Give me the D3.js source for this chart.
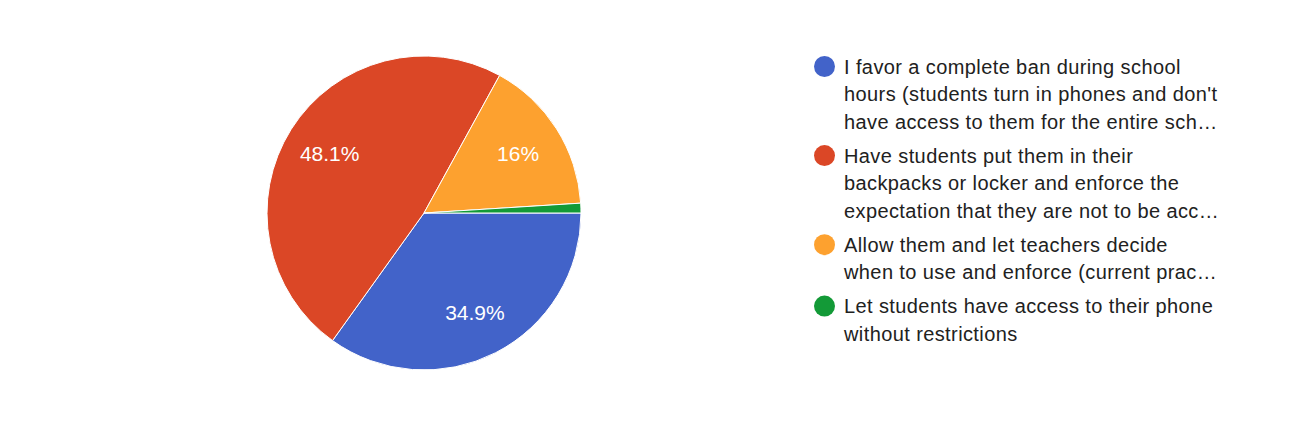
<!DOCTYPE html>
<html><head><meta charset="utf-8">
<script src="https://cdn.jsdelivr.net/npm/d3@7"></script>
<style>body{margin:0;background:#fff;} svg{display:block;}</style>
</head><body>
<svg id="c" width="1289" height="424"></svg>
<script>
const categories = [
  ["I favor a complete ban during school", "hours (students turn in phones and don't", "have access to them for the entire sch\u2026"],
  ["Have students put them in their", "backpacks or locker and enforce the", "expectation that they are not to be acc\u2026"],
  ["Allow them and let teachers decide", "when to use and enforce (current prac\u2026"],
  ["Let students have access to their phone", "without restrictions"]
];
const values = [34.9, 48.1, 16, 1.0];
const labels = ["34.9%", "48.1%", "16%", ""];
const colors = ["#4263c9", "#db4726", "#fda12f", "#139a37"];

const svg = d3.select("#c");
const cx = 424, cy = 213, r = 157;
const pie = d3.pie().sort(null).startAngle(Math.PI/2).endAngle(Math.PI/2 + 2*Math.PI);
const arcs = pie(values);
const arc = d3.arc().innerRadius(0).outerRadius(r);
const labelArc = d3.arc().innerRadius(r*0.71).outerRadius(r*0.71);
const g = svg.append("g").attr("transform", `translate(${cx},${cy})`);
g.selectAll("path").data(arcs).join("path")
  .attr("d", arc).attr("fill", (d,i)=>colors[i])
  .attr("stroke", "#fff").attr("stroke-width", 1);
g.selectAll("text").data(arcs).join("text")
  .attr("transform", d => `translate(${labelArc.centroid(d)})`)
  .attr("text-anchor", "middle").attr("dominant-baseline", "central")
  .attr("font-family", "Arial, 'Liberation Sans', sans-serif").attr("font-size", 21)
  .attr("fill", "#fff").text((d,i)=>labels[i]);

const lg = svg.append("g");
const lineH = 27.7, groupGap = 6;
let y = 66.5;
categories.forEach((lines, i) => {
  lg.append("circle").attr("cx", 824.5).attr("cy", y).attr("r", 10.5).attr("fill", colors[i]);
  const t = lg.append("text").attr("x", 844).attr("y", y)
    .attr("font-family", "Arial, 'Liberation Sans', sans-serif").attr("font-size", 20)
    .attr("letter-spacing", 0.4)
    .attr("fill", "#212121").attr("dominant-baseline", "central");
  lines.forEach((ln, j) => t.append("tspan").attr("x", 844).attr("dy", j===0?0:lineH).text(ln));
  y += lines.length*lineH + groupGap;
});
</script>
</body></html>
